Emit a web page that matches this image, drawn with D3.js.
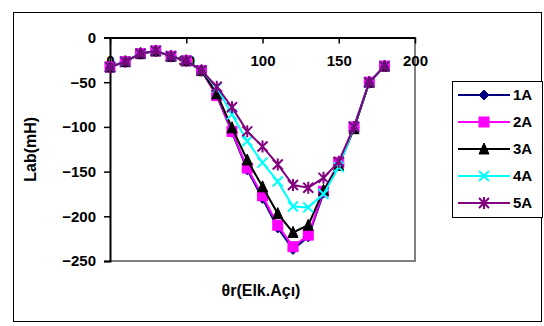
<!DOCTYPE html>
<html>
<head>
<meta charset="utf-8">
<script src="https://cdn.jsdelivr.net/npm/d3@7"></script>
<style>
  body { margin: 0; background: #fff; }
  text { font-family: "Liberation Sans", Arial, sans-serif; font-weight: bold; }
</style>
</head>
<body>
<svg id="chart" width="544" height="326"></svg>
<script>
'use strict';

// angle values (electrical degrees)
var angles = [0, 10, 20, 30, 40, 50, 60, 70, 80, 90, 100, 110, 120, 130, 140, 150, 160, 170, 180];

var seriesNames = ['1A', '2A', '3A', '4A', '5A'];

var lab1A = [-33, -27, -18, -15, -21, -26, -37, -65, -106, -148, -180, -213, -237, -223, -174, -142, -101, -50, -32];
var lab2A = [-33, -27, -18, -15, -21, -26, -37, -65, -105, -146, -177, -210, -234, -221, -172, -140, -100, -50, -32];
var lab3A = [-33, -27, -18, -15, -21, -26, -37, -63, -101, -137, -167, -197, -218, -210, -171, -143, -102, -50, -32];
var lab4A = [-33, -27, -18, -15, -21, -26, -37, -56, -86, -116, -140, -161, -189, -190, -175, -145, -100, -50, -32];
var lab5A = [-33, -27, -18, -15, -21, -26, -37, -55, -78, -105, -122, -142, -165, -168, -157, -139, -100, -50, -32];

var xTicks = [0, 50, 100, 150, 200];
var yTicks = [0, -50, -100, -150, -200, -250];

var series = [
    {name: seriesNames[0], values: lab1A, color: '#000080', marker: 'diamond'},
    {name: seriesNames[1], values: lab2A, color: '#ff00ff', marker: 'square'},
    {name: seriesNames[2], values: lab3A, color: '#000000', marker: 'triangle'},
    {name: seriesNames[3], values: lab4A, color: '#00ffff', marker: 'cross'},
    {name: seriesNames[4], values: lab5A, color: '#800080', marker: 'star'}
];

var svg = d3.select('#chart');

// outer chart frame
svg.append('rect')
    .attr('x', 13.5).attr('y', 12.5)
    .attr('width', 528).attr('height', 309)
    .attr('fill', '#fff').attr('stroke', '#000').attr('stroke-width', 1);

var x = d3.scaleLinear().domain([0, 200]).range([110, 415]);
var y = d3.scaleLinear().domain([-250, 0]).range([261, 37.5]);

// plot border (right + bottom grey)
svg.append('path')
    .attr('d', 'M' + x(0) + ',' + y(-250) + 'H' + x(200) + 'V' + y(0))
    .attr('fill', 'none').attr('stroke', '#808080').attr('stroke-width', 2);

// y axis on the left, ticks outward
var yAxis = d3.axisLeft(y).tickValues(yTicks).tickSize(6).tickPadding(8);
var gy = svg.append('g').attr('transform', 'translate(' + x(0) + ',0)').call(yAxis);
gy.select('.domain').attr('stroke-width', 2);
gy.selectAll('.tick line').attr('stroke-width', 1.5);
gy.selectAll('.tick text').attr('font-size', 15).attr('fill', '#000')
    .style('font-family', '"Liberation Sans", Arial, sans-serif').style('font-weight', 'bold');

// x axis at value 0 (top), ticks pointing down, labels below
var xAxis = d3.axisBottom(x).tickValues(xTicks).tickSizeInner(6).tickSizeOuter(0).tickPadding(12);
var gx = svg.append('g').attr('transform', 'translate(0,' + y(0) + ')').call(xAxis);
gx.select('.domain').attr('stroke-width', 2);
gx.selectAll('.tick line').attr('stroke-width', 1.5);
gx.selectAll('.tick text').attr('font-size', 15).attr('fill', '#000')
    .style('font-family', '"Liberation Sans", Arial, sans-serif').style('font-weight', 'bold');

// axis titles
svg.append('text')
    .attr('transform', 'translate(32,' + ((y(0) + y(-250)) / 2) + ') rotate(-90)')
    .attr('text-anchor', 'middle').attr('dominant-baseline', 'middle')
    .attr('font-size', 16).text('Lab(mH)');

svg.append('text')
    .attr('x', 261).attr('y', 292)
    .attr('text-anchor', 'middle').attr('dominant-baseline', 'middle')
    .attr('font-size', 16).text('θr(Elk.Açı)');

function drawMarker(g, type, color, cx, cy) {
    var s = 5;
    if (type === 'diamond') {
        g.append('path')
            .attr('d', 'M' + cx + ',' + (cy - s) + 'L' + (cx + s) + ',' + cy + 'L' + cx + ',' + (cy + s) + 'L' + (cx - s) + ',' + cy + 'Z')
            .attr('fill', color).attr('stroke', color);
    } else if (type === 'square') {
        g.append('rect')
            .attr('x', cx - s).attr('y', cy - s).attr('width', 2 * s).attr('height', 2 * s)
            .attr('fill', color).attr('stroke', color);
    } else if (type === 'triangle') {
        g.append('path')
            .attr('d', 'M' + cx + ',' + (cy - s - 1) + 'L' + (cx + s) + ',' + (cy + s) + 'L' + (cx - s) + ',' + (cy + s) + 'Z')
            .attr('fill', color).attr('stroke', color);
    } else if (type === 'cross') {
        g.append('path')
            .attr('d', 'M' + (cx - s) + ',' + (cy - s) + 'L' + (cx + s) + ',' + (cy + s) + 'M' + (cx + s) + ',' + (cy - s) + 'L' + (cx - s) + ',' + (cy + s))
            .attr('stroke', color).attr('stroke-width', 2);
    } else if (type === 'star') {
        g.append('path')
            .attr('d', 'M' + (cx - s) + ',' + (cy - s) + 'L' + (cx + s) + ',' + (cy + s) + 'M' + (cx + s) + ',' + (cy - s) + 'L' + (cx - s) + ',' + (cy + s) +
                'M' + cx + ',' + (cy - s - 1) + 'L' + cx + ',' + (cy + s + 1))
            .attr('stroke', color).attr('stroke-width', 2);
    }
}

var line = d3.line()
    .x(function (d, i) { return x(angles[i]); })
    .y(function (d) { return y(d); });

series.forEach(function (s) {
    var g = svg.append('g');
    g.append('path')
        .attr('d', line(s.values))
        .attr('fill', 'none')
        .attr('stroke', s.color)
        .attr('stroke-width', 2);
    s.values.forEach(function (v, i) {
        drawMarker(g, s.marker, s.color, x(angles[i]), y(v));
    });
});

// legend
var legend = svg.append('g');
legend.append('rect')
    .attr('x', 452.5).attr('y', 81.5).attr('width', 90).attr('height', 136)
    .attr('fill', '#fff').attr('stroke', '#000').attr('stroke-width', 1);

series.forEach(function (s, i) {
    var ly = 95 + i * 27;
    legend.append('line')
        .attr('x1', 458).attr('x2', 510).attr('y1', ly).attr('y2', ly)
        .attr('stroke', s.color).attr('stroke-width', 2);
    drawMarker(legend, s.marker, s.color, 484, ly);
    legend.append('text')
        .attr('x', 513).attr('y', ly + 1)
        .attr('dominant-baseline', 'middle')
        .attr('font-size', 15).text(s.name);
});
</script>
</body>
</html>
